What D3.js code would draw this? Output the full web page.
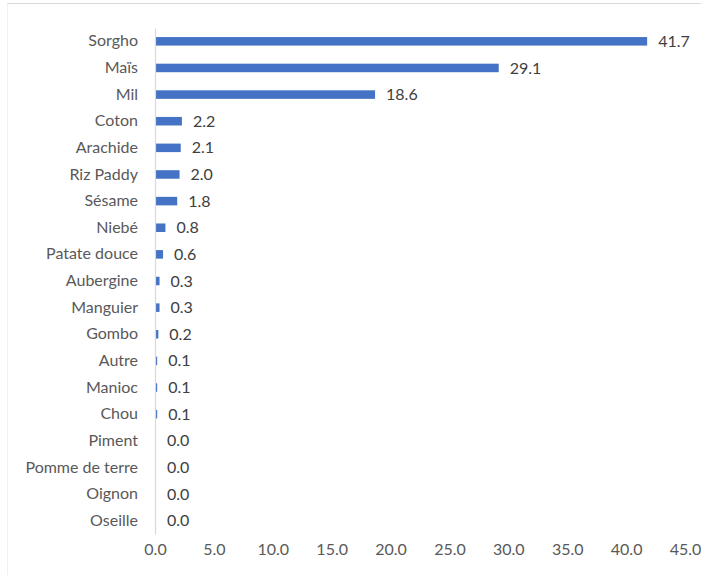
<!DOCTYPE html>
<html>
<head>
<meta charset="utf-8">
<script src="https://cdn.jsdelivr.net/npm/d3@7"></script>
<style>
  body { margin: 0; background: #fff; }
</style>
</head>
<body>
<div id="chart"></div>
<script>
// Data
const categories = ["Sorgho", "Maïs", "Mil", "Coton", "Arachide", "Riz Paddy", "Sésame", "Niebé",
  "Patate douce", "Aubergine", "Manguier", "Gombo", "Autre", "Manioc", "Chou", "Piment",
  "Pomme de terre", "Oignon", "Oseille"];
const values = [41.7, 29.1, 18.6, 2.2, 2.1, 2.0, 1.8, 0.8, 0.6, 0.3, 0.3, 0.2, 0.1, 0.1, 0.1, 0.0, 0.0, 0.0, 0.0];
const xTicks = [0, 5, 10, 15, 20, 25, 30, 35, 40, 45];

const data = categories.map((c, i) => ({ name: c, value: values[i] }));

const width = 701;
const height = 579;
const margin = { top: 28, right: 16, bottom: 45, left: 155 };
const font = "Lato, 'Open Sans', sans-serif";

const svg = d3.select("#chart")
  .append("svg")
  .attr("width", width)
  .attr("height", height)
  .style("font-family", font);

// chart area frame: top edge clearer, left edge faint
svg.append("line")
  .attr("x1", 7).attr("x2", width)
  .attr("y1", 3.5).attr("y2", 3.5)
  .attr("stroke", "#d9d9d9");
svg.append("line")
  .attr("x1", 7.5).attr("x2", 7.5)
  .attr("y1", 3.5).attr("y2", 575)
  .attr("stroke", "#f0f0f0");

const x = d3.scaleLinear()
  .domain([0, 45])
  .range([margin.left, width - margin.right]);

const y = d3.scaleBand()
  .domain(categories)
  .range([margin.top, height - margin.bottom])
  .paddingInner(0.68)
  .paddingOuter(0.34);

// bars
svg.append("g")
  .selectAll("rect")
  .data(data)
  .join("rect")
  .attr("x", x(0) + 1)
  .attr("y", d => y(d.name))
  .attr("width", d => Math.max(0, x(d.value) - x(0)))
  .attr("height", y.bandwidth())
  .attr("fill", "#4472c4");

// value labels
svg.append("g")
  .selectAll("text")
  .data(data)
  .join("text")
  .attr("x", d => x(d.value) + 12)
  .attr("y", d => y(d.name) + y.bandwidth() / 2)
  .attr("dy", "0.35em")
  .attr("fill", "#404040")
  .attr("font-size", "16px")
  .text(d => d.value.toFixed(1));

// y axis
const yAxis = g => g
  .attr("transform", `translate(${x(0)},0)`)
  .call(d3.axisLeft(y).tickSize(0).tickPadding(17))
  .call(g => g.select(".domain").attr("stroke", "#d9d9d9").attr("stroke-width", 1.2))
  .call(g => g.selectAll("text")
    .attr("fill", "#595959")
    .style("font-size", "16px")
    .style("font-family", font));

// x axis (no line, labels only)
const xAxis = g => g
  .attr("transform", `translate(0,${height - margin.bottom})`)
  .call(d3.axisBottom(x).tickValues(xTicks).tickFormat(d3.format(".1f")).tickSize(0).tickPadding(10))
  .call(g => g.select(".domain").remove())
  .call(g => g.selectAll("text")
    .attr("fill", "#595959")
    .style("font-size", "16px")
    .style("font-family", font));

svg.append("g").call(yAxis);
svg.append("g").call(xAxis);
</script>
</body>
</html>
